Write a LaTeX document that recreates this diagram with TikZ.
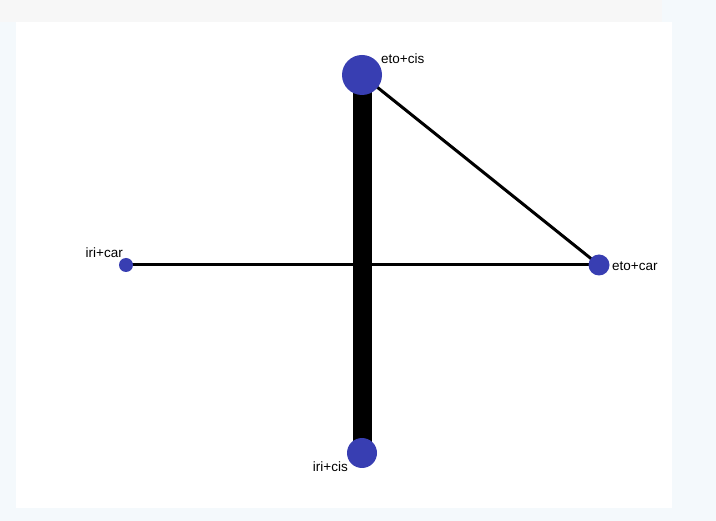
\documentclass[tikz,border=0pt]{standalone}
\usepackage{fontspec}
\setmainfont{Liberation Sans}
\definecolor{nodeblue}{RGB}{56,62,178}
\definecolor{bgblue}{RGB}{244,249,252}
\definecolor{bggray}{RGB}{247,247,247}
\begin{document}
\begin{tikzpicture}[x=1pt,y=-1pt,
  vert/.style={circle,fill=nodeblue,inner sep=0pt,minimum size=#1},
  lab/.style={font=\fontsize{13.5}{15}\selectfont,inner sep=0pt,text=black},
  thin edge/.style={line width=3pt,black},
  thick edge/.style={line width=19pt,black}]
\useasboundingbox (0,0) rectangle (716,521);
\fill[bgblue] (0,0) rectangle (716,521);
\fill[bggray] (0,0) rectangle (662,22);
\fill[white] (16,22) rectangle (672,508);
% edges
\coordinate (ec) at (362,75);
\coordinate (ea) at (599,265);
\coordinate (ia) at (126,265);
\coordinate (ic) at (362,453);
\draw[thin edge] (ia) -- (ea);
\draw[thin edge] (ec) -- (ea);
\draw[thick edge] (ec) -- (ic);
% vertices
\node[vert=40pt] (nec) at (ec) {};
\node[vert=21pt] (nea) at (ea) {};
\node[vert=14pt] (nia) at (ia) {};
\node[vert=30pt] (nic) at (ic) {};
% labels
\node[lab,anchor=west] (lec) at (381,59) {eto+cis};
\node[lab,anchor=west] (lea) at (612,266) {eto+car};
\node[lab,anchor=east] (lia) at (123,253) {iri+car};
\node[lab,anchor=east] (lic) at (348,467) {iri+cis};
\end{tikzpicture}
\end{document}
